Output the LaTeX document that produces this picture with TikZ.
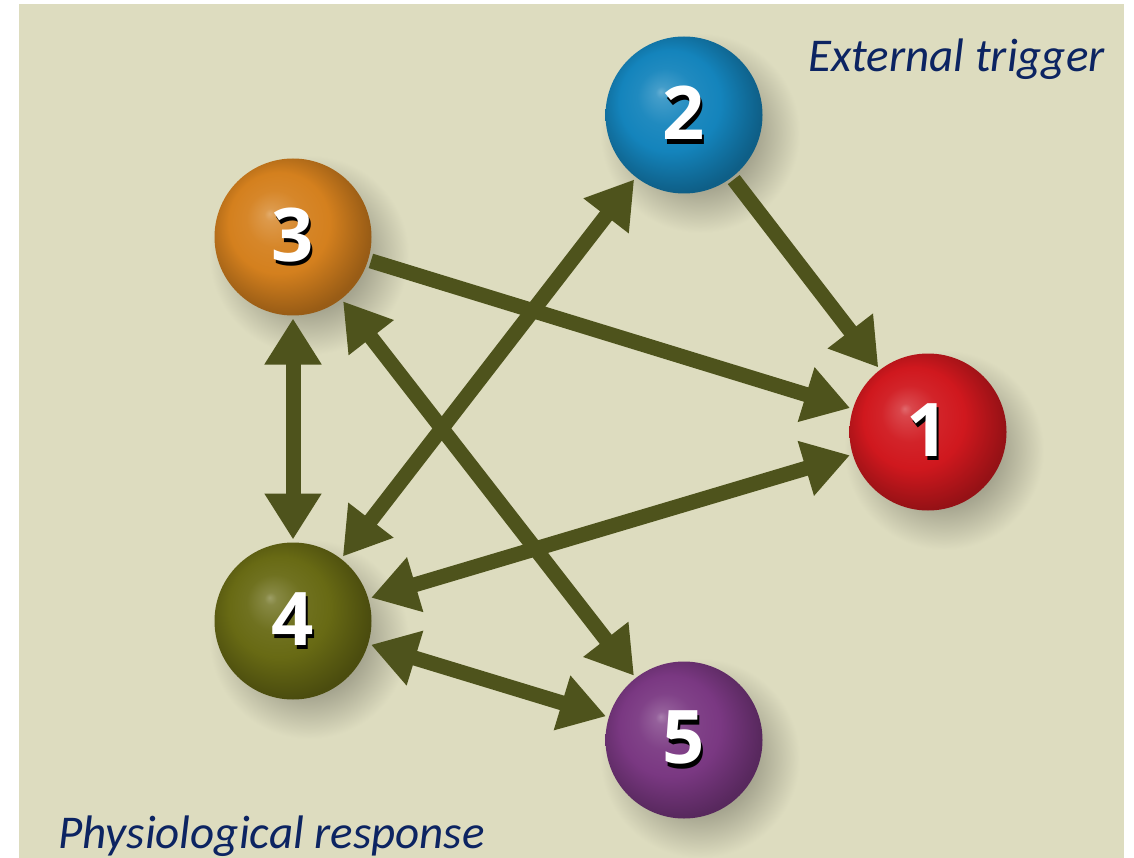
\documentclass[tikz,border=0pt]{standalone}
\usepackage{fontspec}
\usetikzlibrary{arrows.meta}
\newfontfamily\digitfont{Open Sans}
\newfontfamily\labelfont{Carlito}
\definecolor{bgc}{RGB}{221,220,191}
\definecolor{arrowc}{RGB}{78,83,28}
\definecolor{labelc}{RGB}{12,36,98}
\definecolor{cred}{RGB}{208,24,30}
\definecolor{cblue}{RGB}{20,132,188}
\definecolor{corange}{RGB}{212,128,30}
\definecolor{colive}{RGB}{104,106,20}
\definecolor{cpurple}{RGB}{122,56,130}
\colorlet{bgshadow}{bgc!75!black}
\newcommand\mkball[2]{\pgfdeclareradialshading{#1}{\pgfpoint{-7.5bp}{7.5bp}}{color(0bp)=(#2!65!white); color(2bp)=(#2!80!white); color(9bp)=(#2!95!white); color(16bp)=(#2); color(23bp)=(#2!82!black); color(27bp)=(#2!72!black); color(40bp)=(#2!65!black)}}
\mkball{ballred}{cred}
\mkball{ballblue}{cblue}
\mkball{ballorange}{corange}
\mkball{ballolive}{colive}
\mkball{ballpurple}{cpurple}
\pgfdeclareradialshading{ballshadow}{\pgfpointorigin}{color(0bp)=(bgshadow); color(14bp)=(bgshadow); color(25bp)=(bgc); color(50bp)=(bgc)}
\newcommand\dig[1]{\rlap{\kern2pt\raisebox{-4.5pt}{\textcolor{black}{#1}}}#1}
\tikzset{
  ball/.style={circle, minimum size=157pt, inner sep=0pt, outer sep=3pt, shade, shading=#1,
    text=white, font=\digitfont\bfseries\fontsize{74}{74}\selectfont},
  link/.style={line width=15pt, draw=arrowc, -{Triangle[length=46pt,width=54pt]}},
  dlink/.style={line width=15pt, draw=arrowc, {Triangle[length=46pt,width=54pt]}-{Triangle[length=46pt,width=54pt]}},
  lbl/.style={text=labelc, font=\labelfont\itshape\fontsize{47}{47}\selectfont, inner sep=0pt, anchor=base west}
}
\begin{document}
\begin{tikzpicture}[x=1pt,y=-1pt]
\useasboundingbox (0,0) rectangle (1134,858);
\fill[white] (0,0) rectangle (1134,858);
\fill[bgc] (19,4) rectangle (1124,858);
% shadows
\foreach \cx/\cy in {928/432,684/115,293/237,293/621,684/740}
  \shade[shading=ballshadow] (\cx+16,\cy+18) circle (100);
% spheres
\node[ball=ballred] (n1) at (928,432) {\dig{1}};
\node[ball=ballblue] (n2) at (684,115) {\dig{2}};
\node[ball=ballorange] (n3) at (293,237) {\dig{3}};
\node[ball=ballolive] (n4) at (293,621) {\dig{4}};
\node[ball=ballpurple] (n5) at (684,740) {\dig{5}};
% connectors
\draw[link] (n2) -- (n1);
\draw[link] (n3) -- (n1);
\draw[dlink] (n4) -- (n2);
\draw[dlink] (n4) -- (n1);
\draw[dlink] (n3) -- (n4);
\draw[dlink] (n3) -- (n5);
\draw[dlink] (n4) -- (n5);
% labels
\node[lbl] (ext) at (808,72) {External trigger};
\node[lbl] (phys) at (58,848) {Physiological response};
\end{tikzpicture}
\end{document}
